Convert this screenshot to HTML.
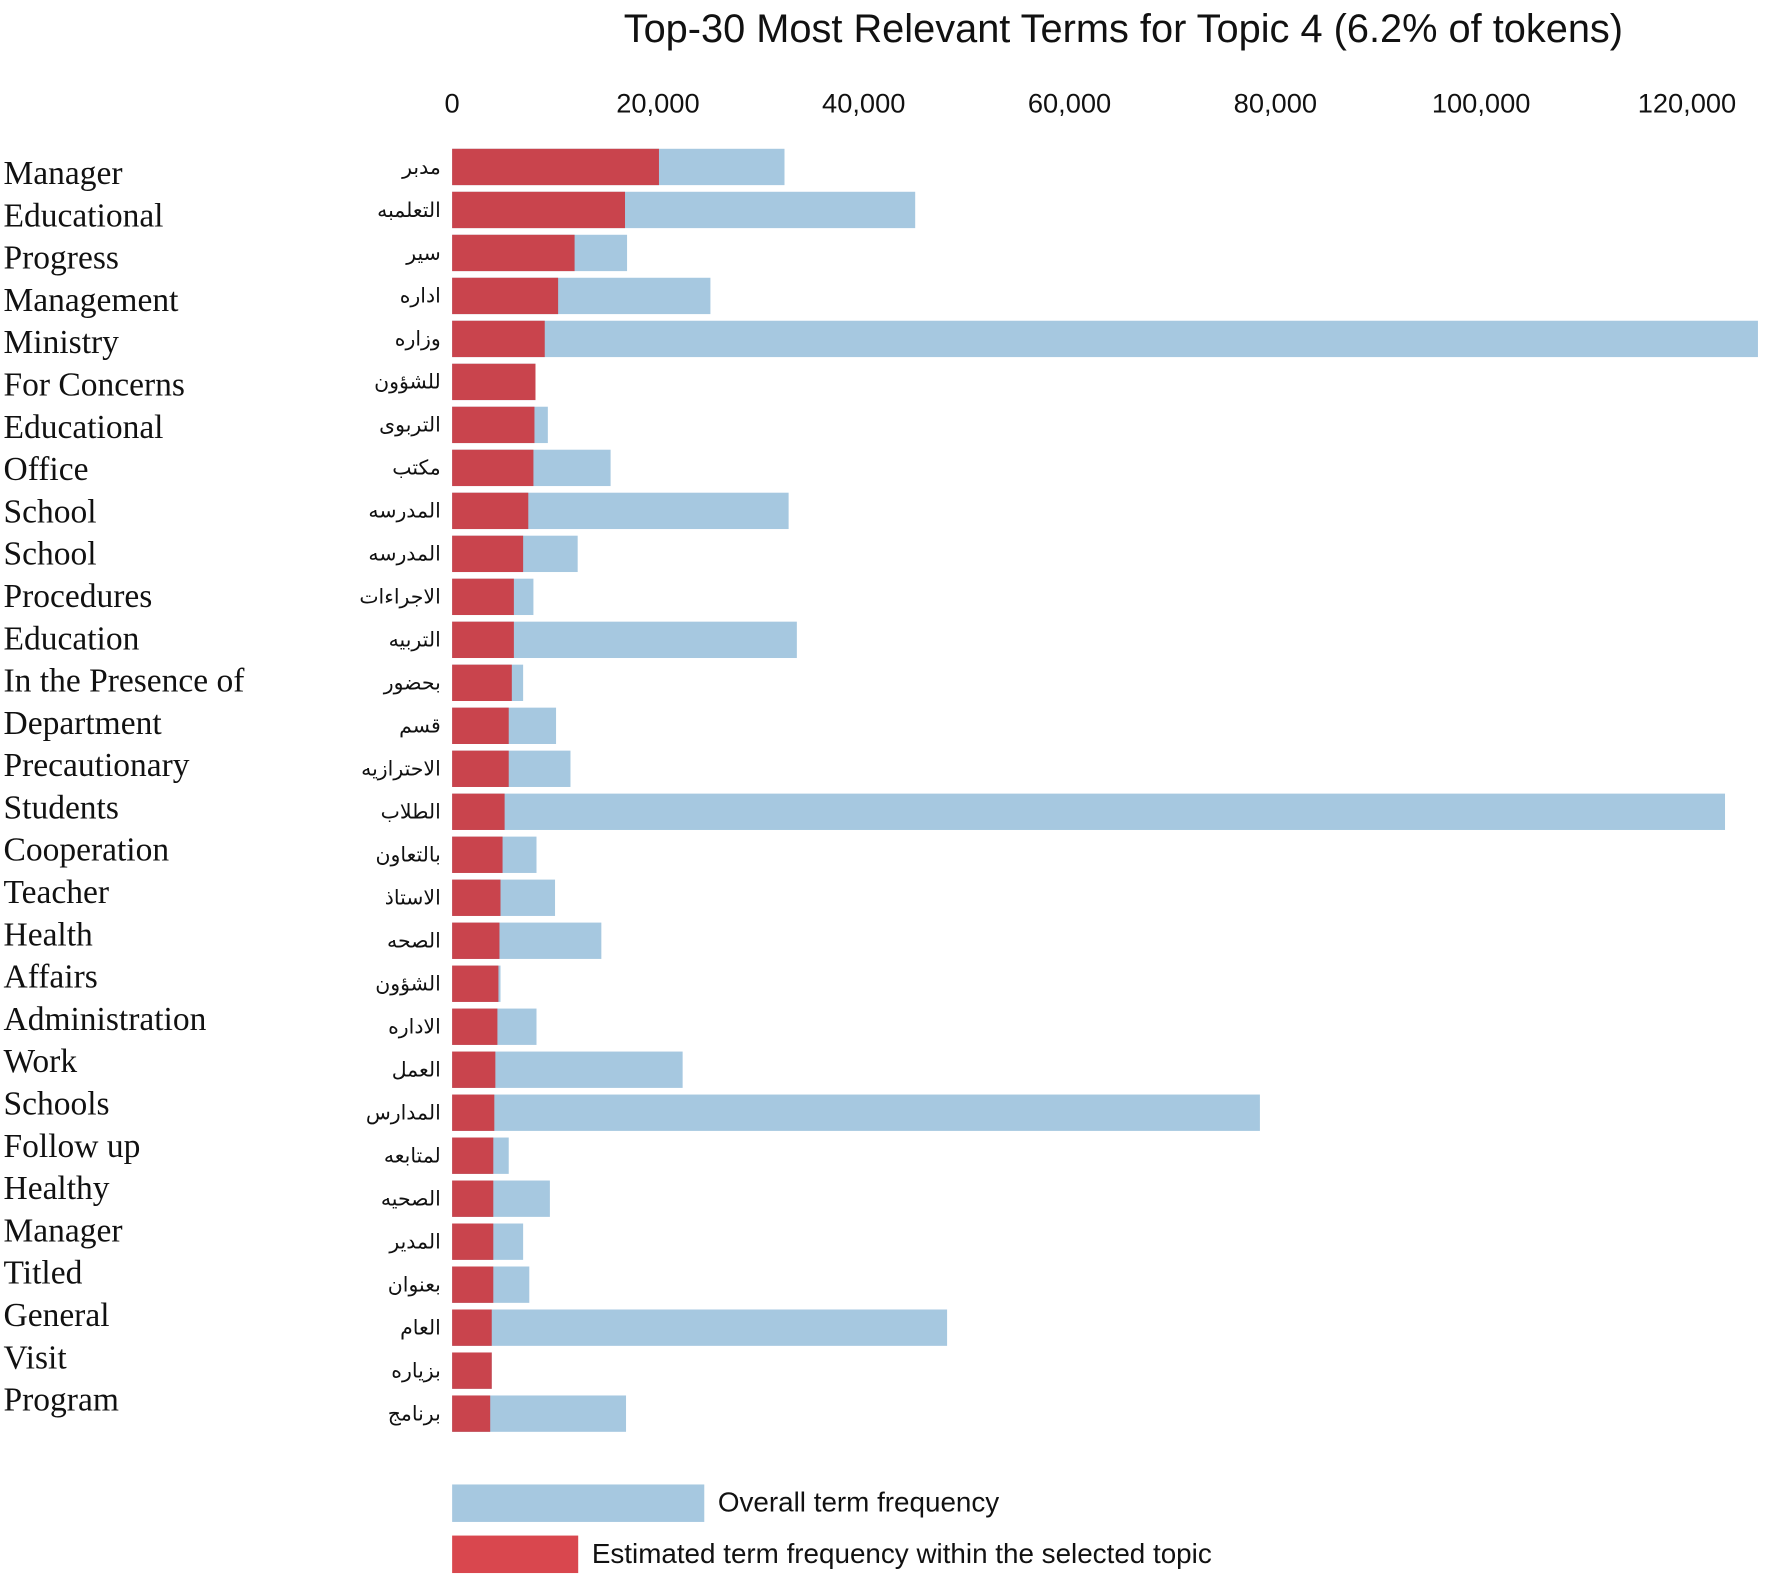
<!DOCTYPE html>
<html><head><meta charset="utf-8"><style>
html,body{margin:0;padding:0;background:#fff}
svg{display:block}
</style></head><body>
<svg id="chart" width="1772" height="1581" viewBox="0 0 1560 1392" xmlns="http://www.w3.org/2000/svg">
<text x="989" y="37" text-anchor="middle" font-family="Liberation Sans, sans-serif" font-size="35" fill="#111">Top-30 Most Relevant Terms for Topic 4 (6.2% of tokens)</text>
<g id="ticks"></g>
<g id="bars"></g>
<g id="labels"></g>
<g>
<rect x="398" y="1307" width="222" height="33" fill="#a6c8e0"/>
<text x="632" y="1331" font-family="Liberation Sans, sans-serif" font-size="24.5" fill="#111">Overall term frequency</text>
<rect x="398" y="1352" width="111" height="33" fill="#d9474e"/>
<text x="521" y="1376" font-family="Liberation Sans, sans-serif" font-size="24.5" fill="#111">Estimated term frequency within the selected topic</text>
</g>
</svg>
<script>
const englishTerms=["Manager","Educational","Progress","Management","Ministry","For Concerns","Educational","Office","School","School","Procedures","Education","In the Presence of","Department","Precautionary","Students","Cooperation","Teacher","Health","Affairs","Administration","Work","Schools","Follow up","Healthy","Manager","Titled","General","Visit","Program"];
const arabicTerms=["مدبر","التعلمبه","سير","اداره","وزاره","للشؤون","التربوى","مكتب","المدرسه","المدرسه","الاجراءات","التربيه","بحضور","قسم","الاحترازيه","الطلاب","بالتعاون","الاستاذ","الصحه","الشؤون","الاداره","العمل","المدارس","لمتابعه","الصحيه","المدير","بعنوان","العام","بزياره","برنامج"];
const overallFreq=[32300,45000,17000,25100,126900,8100,9300,15400,32700,12200,7900,33500,6900,10100,11500,123700,8200,10000,14500,4700,8200,22400,78500,5500,9500,6900,7500,48100,3850,16900];
const topicFreq=[20100,16800,11900,10300,9000,8100,8000,7900,7400,6900,6000,6000,5800,5500,5500,5100,4900,4700,4600,4500,4400,4200,4100,4000,4000,4000,4000,3850,3850,3700];
const tickValues=[0,20000,40000,60000,80000,100000,120000];
const NS="http://www.w3.org/2000/svg";
const xScale=v=>398+v*0.00906;
const yScale=i=>131+i*37.85;
const BH=32;
function mk(tag,attrs,parent){const e=document.createElementNS(NS,tag);for(const k in attrs)e.setAttribute(k,attrs[k]);parent.appendChild(e);return e;}
const ticks=document.getElementById('ticks'),bars=document.getElementById('bars'),labels=document.getElementById('labels');
tickValues.forEach(v=>{
 const t=mk('text',{x:xScale(v),y:99,'text-anchor':'middle','font-family':'Liberation Sans, sans-serif','font-size':24,fill:'#111'},ticks);
 
 
 t.textContent=v.toLocaleString('en-US');
});
overallFreq.forEach((v,i)=>{
 const b=mk('rect',{x:xScale(0),y:yScale(i),width:xScale(v)-xScale(0),height:BH,fill:'#a6c8e0'},bars);
 
 
 const r=mk('rect',{x:xScale(0),y:yScale(i),width:xScale(topicFreq[i])-xScale(0),height:BH,fill:'#c9444d'},bars);
 
 
 const a=mk('text',{x:388,y:yScale(i)+22,'text-anchor':'end','font-family':'DejaVu Sans, sans-serif','font-size':18,fill:'#111'},labels);
 
 
 a.textContent=arabicTerms[i];
 const e=mk('text',{x:3,y:162+i*37.24,'font-family':'Liberation Serif, serif','font-size':29.5,fill:'#111'},labels);
 
 
 e.textContent=englishTerms[i];
});
</script>
</body></html>
